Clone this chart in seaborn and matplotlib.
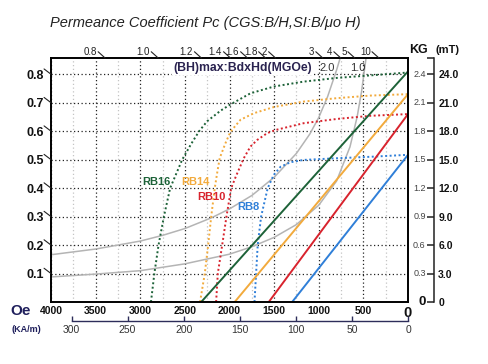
import matplotlib
matplotlib.use("Agg")
import pandas as pd
import matplotlib.pyplot as plt
import seaborn as sns

# %% data

oe_ticks = [4000, 3500, 3000, 2500, 2000, 1500, 1000, 500, 0]
oe_minor = [3750, 3250, 2750, 2250, 1750, 1250, 750, 250]
kam_ticks = [300, 250, 200, 150, 100, 50, 0]
tesla_ticks = [0.1, 0.2, 0.3, 0.4, 0.5, 0.6, 0.7, 0.8]
kg_ticks = [0, 0.3, 0.6, 0.9, 1.2, 1.5, 1.8, 2.1, 2.4]
kg_labels = ["0", "0.3", "0.6", "0.9", "1.2", "1.5", "1.8", "2.1", "2.4"]
mt_labels = ["0", "3.0", "6.0", "9.0", "12.0", "15.0", "18.0", "21.0", "24.0"]

pc_labels = ["0.8", "1.0", "1.2", "1.4", "1.6", "1.8", "2", "3", "4", "5", "10"]
pc_oe = [3394, 2799, 2315, 1989, 1798, 1596, 1484, 955, 753, 596, 326]

grades = ["RB16", "RB14", "RB10", "RB8"]
grade_colors = ["#1d6238", "#f2aa3c", "#d8232d", "#2f7fd8"]
hcb = [2317, 1942, 1560, 1298]      # B = 0 crossing of the normal line (Oe)
br = [0.81, 0.73, 0.66, 0.517]      # remanence (T)
label_oe = [2818, 2381, 2207, 1788]
label_t = [0.422, 0.422, 0.369, 0.334]

# intrinsic (dotted) curves
rb16_h = [2880, 2842, 2795, 2735, 2665, 2530, 2430, 2340, 2250, 2100, 2000, 1765, 1500, 1170, 800, 420, 0]
rb16_b = [0, 0.1, 0.2, 0.3, 0.4, 0.5, 0.555, 0.6, 0.635, 0.672, 0.692, 0.733, 0.757, 0.774, 0.787, 0.796, 0.806]
rb14_h = [2330, 2277, 2239, 2205, 2165, 2140, 2110, 2045, 1989, 1877, 1728, 1500, 1169, 795, 422, 0]
rb14_b = [0, 0.1, 0.2, 0.3, 0.4, 0.45, 0.505, 0.558, 0.598, 0.64, 0.663, 0.685, 0.704, 0.716, 0.725, 0.73]
rb10_h = [2150, 2131, 2082, 2034, 1981, 1930, 1840, 1765, 1690, 1578, 1486, 1169, 795, 422, 0]
rb10_b = [0, 0.1, 0.2, 0.3, 0.4, 0.44, 0.505, 0.546, 0.569, 0.593, 0.604, 0.628, 0.643, 0.654, 0.66]
rb8_h = [1720, 1702, 1684, 1646, 1572, 1505, 1428, 1316, 1169, 795, 422, 0]
rb8_b = [0, 0.1, 0.2, 0.3, 0.4, 0.446, 0.475, 0.491, 0.499, 0.505, 0.51, 0.517]

# (BH)max iso-energy curves
bh20_h = [4000, 3500, 3000, 2750, 2500, 2200, 2000, 1750, 1500, 1250, 1100, 1000, 900, 800, 760]
bh20_b = [0.166, 0.186, 0.214, 0.234, 0.258, 0.296, 0.327, 0.374, 0.438, 0.522, 0.59, 0.648, 0.722, 0.815, 0.857]
bh10_h = [4000, 3500, 3000, 2500, 2000, 1750, 1500, 1250, 1000, 800, 650, 570, 520, 470]
bh10_b = [0.088, 0.098, 0.11, 0.134, 0.168, 0.194, 0.227, 0.272, 0.34, 0.425, 0.545, 0.65, 0.74, 0.857]

y_top = 0.857
oe_per_kam = 12.566

# %% figure

sns.set_style("white")
plt.rcParams["font.family"] = ["Liberation Sans", "DejaVu Sans"]

fig = plt.figure(figsize=(4.88, 3.64), dpi=100)
ax = fig.add_axes([51 / 488, 62 / 364, 357 / 488, 244 / 364])

dots = (0, (1, 1.3))

sns.lineplot(x=bh20_h, y=bh20_b, ax=ax, color="#b4b4b4", lw=1.1, sort=False, estimator=None)
sns.lineplot(x=bh10_h, y=bh10_b, ax=ax, color="#b4b4b4", lw=1.1, sort=False, estimator=None)

intrinsic = [(rb16_h, rb16_b), (rb14_h, rb14_b), (rb10_h, rb10_b), (rb8_h, rb8_b)]
for (hh, bb), c in zip(intrinsic, grade_colors):
    sns.lineplot(x=hh, y=bb, ax=ax, color=c, lw=1.4, linestyle=dots,
                 sort=False, estimator=None)

for h0, b0, c in zip(hcb, br, grade_colors):
    sns.lineplot(x=[h0, 0], y=[0, b0], ax=ax, color=c, lw=1.4,
                 sort=False, estimator=None)

for g, h, t, c in zip(grades, label_oe, label_t, grade_colors):
    ax.text(h, t, g, color=c, fontsize=8, fontweight="bold", ha="center", va="center")

ax.text(1854, 0.822, "(BH)max:BdxHd(MGOe)", ha="center", va="center", fontsize=8.8,
        fontweight="bold", color="#2a2350",
        bbox=dict(facecolor="white", edgecolor="none", pad=0.6))
ax.text(903, 0.822, "2.0", ha="center", va="center", fontsize=8, color="#333")
ax.text(565, 0.822, "1.0", ha="center", va="center", fontsize=8, color="#333")

ax.set_xlim(4000, 0)
ax.set_ylim(0, y_top)
ax.set_xticks(oe_ticks)
ax.set_xticks(oe_minor, minor=True)
ax.set_yticks(tesla_ticks)
ax.set_xticklabels([str(v) for v in oe_ticks], fontsize=7.5, fontweight="bold", color="#111")
ax.get_xticklabels()[-1].set_fontsize(10.5)
ax.set_yticklabels([f"{v:.1f}" for v in tesla_ticks], fontsize=9, fontweight="bold", color="#111")
ax.tick_params(axis="both", which="both", length=0)
ax.tick_params(axis="x", pad=3)
ax.tick_params(axis="y", pad=5)
ax.grid(True, which="major", color="#222", linestyle=(0, (1, 2)), lw=0.9)
ax.grid(True, which="minor", axis="x", color="#c4c4c4", linestyle=(0, (1, 2)), lw=0.9)
ax.set_axisbelow(True)
for s in ax.spines.values():
    s.set_color("black")
    s.set_linewidth(1.4)
ax.set_xlabel("")
ax.set_ylabel("")

# slanted permeance marks along the top and left edges
for lbl, h in zip(pc_labels, pc_oe):
    ax.annotate("", xy=(h, 1), xycoords=("data", "axes fraction"), xytext=(-5, 4.5),
                textcoords="offset points", annotation_clip=False,
                arrowprops=dict(arrowstyle="-", lw=0.8, color="#222", shrinkA=0, shrinkB=0))
    ax.annotate(lbl, xy=(h, 1), xycoords=("data", "axes fraction"), xytext=(-6, 1),
                textcoords="offset points", ha="right", va="bottom", fontsize=7,
                color="#222", annotation_clip=False)
for t in tesla_ticks:
    ax.annotate("", xy=(0, t), xycoords=("axes fraction", "data"), xytext=(-5, 3.8),
                textcoords="offset points", annotation_clip=False,
                arrowprops=dict(arrowstyle="-", lw=0.8, color="#222", shrinkA=0, shrinkB=0))

# right KG / mT scale
out_pt = 18.7
ax_r = ax.twinx()
ax_r.set_ylim(0, 3 * y_top)
ax_r.grid(False)
for k in ["left", "top", "bottom"]:
    ax_r.spines[k].set_visible(False)
ax_r.spines["right"].set_position(("outward", out_pt))
ax_r.spines["right"].set_color("#222")
ax_r.spines["right"].set_linewidth(1.1)
ax_r.set_yticks(kg_ticks)
ax_r.set_yticks([3 * y_top], minor=True)
ax_r.set_yticklabels(mt_labels, fontsize=7.5, fontweight="bold", color="#111")
ax_r.tick_params(axis="y", which="both", right=True, labelright=True, direction="in",
                 length=5, width=1.1, color="#222", pad=3)
for v, lbl in zip(kg_ticks, kg_labels):
    big = lbl == "0"
    ax_r.annotate(lbl, xy=(1, v), xycoords=("axes fraction", "data"),
                  xytext=(out_pt - 6, 0), textcoords="offset points", ha="right",
                  va="center", fontsize=9.5 if big else 6.5,
                  fontweight="bold" if big else "normal",
                  color="#111" if big else "#444", annotation_clip=False)

# lower kA/m scale
ax_k = ax.twiny()
ax_k.set_xlim(4000 / oe_per_kam, 0)
ax_k.grid(False)
ax_k.xaxis.set_ticks_position("bottom")
ax_k.xaxis.set_label_position("bottom")
for k in ["left", "top", "right"]:
    ax_k.spines[k].set_visible(False)
ax_k.spines["bottom"].set_position(("outward", 13.7))
ax_k.spines["bottom"].set_bounds(300, 0)
ax_k.spines["bottom"].set_color("#2d2d5a")
ax_k.spines["bottom"].set_linewidth(1.0)
ax_k.set_xticks(kam_ticks)
ax_k.set_xticklabels([str(v) for v in kam_ticks], fontsize=7.5, color="#333")
ax_k.tick_params(axis="x", bottom=True, direction="in", length=3.5, width=1,
                 color="#2d2d5a", pad=3)

# free texts
fig.text(50 / 488, 1 - 23 / 364, "Permeance Coefficient Pc (CGS:B/H,SI:B/\u03bco H)",
         fontsize=10.5, style="italic", color="#222", ha="left", va="center")
fig.text(418 / 488, 1 - 50 / 364, "KG", fontsize=9, fontweight="bold", color="#111",
         ha="center", va="center")
fig.text(447 / 488, 1 - 50 / 364, "(mT)", fontsize=8, fontweight="bold", color="#111",
         ha="center", va="center")
fig.text(21 / 488, 1 - 311 / 364, "Oe", fontsize=11, fontweight="bold", color="#1f1f5c",
         ha="center", va="center")
fig.text(26 / 488, 1 - 329 / 364, "(KA/m)", fontsize=6.5, fontweight="bold", color="#1f1f5c",
         ha="center", va="center")

fig.savefig("out.png", dpi=100)
